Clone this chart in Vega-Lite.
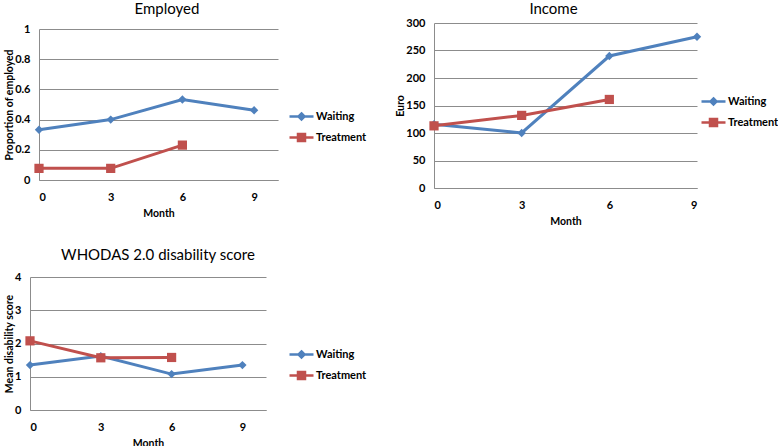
{
  "$schema": "https://vega.github.io/schema/vega-lite/v6.json",
  "background": "white",
  "padding": {"left": 4, "top": 2, "right": 0, "bottom": 0},
  "data": {
    "values": [
      {"panel": "emp", "month": 0, "group": "Waiting", "value": 0.333},
      {"panel": "emp", "month": 3, "group": "Waiting", "value": 0.4},
      {"panel": "emp", "month": 6, "group": "Waiting", "value": 0.533},
      {"panel": "emp", "month": 9, "group": "Waiting", "value": 0.462},
      {"panel": "emp", "month": 0, "group": "Treatment", "value": 0.077},
      {"panel": "emp", "month": 3, "group": "Treatment", "value": 0.077},
      {"panel": "emp", "month": 6, "group": "Treatment", "value": 0.231},
      {"panel": "inc", "month": 0, "group": "Waiting", "value": 116},
      {"panel": "inc", "month": 3, "group": "Waiting", "value": 100},
      {"panel": "inc", "month": 6, "group": "Waiting", "value": 240},
      {"panel": "inc", "month": 9, "group": "Waiting", "value": 275},
      {"panel": "inc", "month": 0, "group": "Treatment", "value": 113},
      {"panel": "inc", "month": 3, "group": "Treatment", "value": 132},
      {"panel": "inc", "month": 6, "group": "Treatment", "value": 161},
      {"panel": "who", "month": 0, "group": "Waiting", "value": 1.35},
      {"panel": "who", "month": 3, "group": "Waiting", "value": 1.62},
      {"panel": "who", "month": 6, "group": "Waiting", "value": 1.08},
      {"panel": "who", "month": 9, "group": "Waiting", "value": 1.35},
      {"panel": "who", "month": 0, "group": "Treatment", "value": 2.08},
      {"panel": "who", "month": 3, "group": "Treatment", "value": 1.57},
      {"panel": "who", "month": 6, "group": "Treatment", "value": 1.58}
    ]
  },
  "vconcat": [
    {
      "hconcat": [
        {
          "title": {"text": "Employed", "dx": 13, "offset": 6},
          "width": 248,
          "height": 157,
          "transform": [{"filter": "datum.panel === 'emp'"}],
          "encoding": {
            "x": {"field": "month", "type": "quantitative", "title": "Month", "scale": {"domain": [0, 10], "nice": false, "range": [9, 248]}, "axis": {"values": [0, 3, 6, 9]}},
            "y": {"field": "value", "type": "quantitative", "title": "Proportion of employed", "scale": {"domain": [0, 1], "nice": false, "range": [157, 6]}, "axis": {"values": [0, 0.2, 0.4, 0.6, 0.8, 1], "format": "~g", "offset": -9}},
            "color": {
              "field": "group", "type": "nominal",
              "scale": {"domain": ["Waiting", "Treatment"], "range": ["#4F81BD", "#C0504D"]},
              "legend": {"orient": "none", "legendX": 260, "legendY": 82,
                "encode": {"symbols": {"update": {
                  "shape": {"signal": "datum.value === 'Waiting' ? 'M-1.2,0H1.2M0,-0.3L0.3,0L0,0.3L-0.3,0Z' : 'M-1.2,0H1.2M-0.35,-0.35H0.35V0.35H-0.35Z'"},
                  "size": {"value": 400}, "strokeWidth": {"value": 2.5}}}}}
            }
          },
          "layer": [
            {"mark": {"type": "line", "strokeWidth": 3}},
            {"transform": [{"filter": "datum.group === 'Waiting'"}], "mark": {"type": "point", "shape": "diamond", "size": 70, "filled": true, "opacity": 1}},
            {"transform": [{"filter": "datum.group === 'Treatment'"}], "mark": {"type": "point", "shape": "square", "size": 85, "filled": true, "opacity": 1}}
          ]
        },
        {
          "title": {"text": "Income", "dx": -12, "offset": 0},
          "width": 263,
          "height": 165,
          "transform": [{"filter": "datum.panel === 'inc'"}],
          "encoding": {
            "x": {"field": "month", "type": "quantitative", "title": "Month", "scale": {"domain": [0, 9], "nice": false}, "axis": {"values": [0, 3, 6, 9]}},
            "y": {"field": "value", "type": "quantitative", "title": "Euro", "scale": {"domain": [0, 300], "nice": false}, "axis": {"values": [0, 50, 100, 150, 200, 250, 300]}},
            "color": {
              "field": "group", "type": "nominal",
              "scale": {"domain": ["Waiting", "Treatment"], "range": ["#4F81BD", "#C0504D"]},
              "legend": {"orient": "none", "legendX": 268, "legendY": 67,
                "encode": {"symbols": {"update": {
                  "shape": {"signal": "datum.value === 'Waiting' ? 'M-1.2,0H1.2M0,-0.3L0.3,0L0,0.3L-0.3,0Z' : 'M-1.2,0H1.2M-0.35,-0.35H0.35V0.35H-0.35Z'"},
                  "size": {"value": 400}, "strokeWidth": {"value": 2.5}}}}}
            }
          },
          "layer": [
            {"mark": {"type": "line", "strokeWidth": 3}},
            {"transform": [{"filter": "datum.group === 'Waiting'"}], "mark": {"type": "point", "shape": "diamond", "size": 70, "filled": true, "opacity": 1}},
            {"transform": [{"filter": "datum.group === 'Treatment'"}], "mark": {"type": "point", "shape": "square", "size": 85, "filled": true, "opacity": 1}}
          ]
        }
      ],
      "spacing": 28,
      "resolve": {"scale": {"color": "independent", "x": "independent", "y": "independent"}, "legend": {"color": "independent"}}
    },
    {
      "title": {"text": "WHODAS 2.0 disability score", "dx": 10, "offset": 8},
      "width": 236,
      "height": 133,
      "transform": [{"filter": "datum.panel === 'who'"}],
      "encoding": {
        "x": {"field": "month", "type": "quantitative", "title": "Month", "scale": {"domain": [0, 10], "nice": false}, "axis": {"values": [0, 3, 6, 9]}},
        "y": {"field": "value", "type": "quantitative", "title": "Mean disability score", "scale": {"domain": [0, 4], "nice": false}, "axis": {"values": [0, 1, 2, 3, 4]}},
        "color": {
          "field": "group", "type": "nominal",
          "scale": {"domain": ["Waiting", "Treatment"], "range": ["#4F81BD", "#C0504D"]},
          "legend": {"orient": "none", "legendX": 260, "legendY": 66,
            "encode": {"symbols": {"update": {
              "shape": {"signal": "datum.value === 'Waiting' ? 'M-1.2,0H1.2M0,-0.3L0.3,0L0,0.3L-0.3,0Z' : 'M-1.2,0H1.2M-0.35,-0.35H0.35V0.35H-0.35Z'"},
              "size": {"value": 400}, "strokeWidth": {"value": 2.5}}}}}
        }
      },
      "layer": [
        {"mark": {"type": "line", "strokeWidth": 3}},
        {"transform": [{"filter": "datum.group === 'Waiting'"}], "mark": {"type": "point", "shape": "diamond", "size": 70, "filled": true, "opacity": 1}},
        {"transform": [{"filter": "datum.group === 'Treatment'"}], "mark": {"type": "point", "shape": "square", "size": 85, "filled": true, "opacity": 1}}
      ]
    }
  ],
  "spacing": 21,
  "resolve": {"scale": {"color": "independent", "x": "independent", "y": "independent"}, "legend": {"color": "independent"}},
  "config": {
    "view": {"stroke": null},
    "font": "Lato",
    "title": {"font": "Lato", "fontSize": 15, "fontWeight": "normal", "color": "#000", "anchor": "middle"},
    "axis": {
      "labelFont": "Lato", "labelFontSize": 11, "labelFontWeight": "bold", "labelColor": "#000",
      "titleFont": "Lato", "titleFontSize": 10.5, "titleFontWeight": "bold", "titleColor": "#000",
      "gridColor": "#8c8c8c", "gridOpacity": 1, "domainColor": "#8c8c8c", "ticks": false
    },
    "axisX": {"grid": false, "labelPadding": 11, "titlePadding": 6},
    "axisY": {"grid": true, "labelPadding": 9, "titlePadding": 0},
    "legend": {
      "title": null,
      "labelFont": "Lato", "labelFontSize": 11, "labelFontWeight": "bold", "labelColor": "#000",
      "symbolSize": 400, "rowPadding": 1, "labelOffset": 3, "symbolStrokeWidth": 2.5,
      "symbolOpacity": 1
    }
  }
}
